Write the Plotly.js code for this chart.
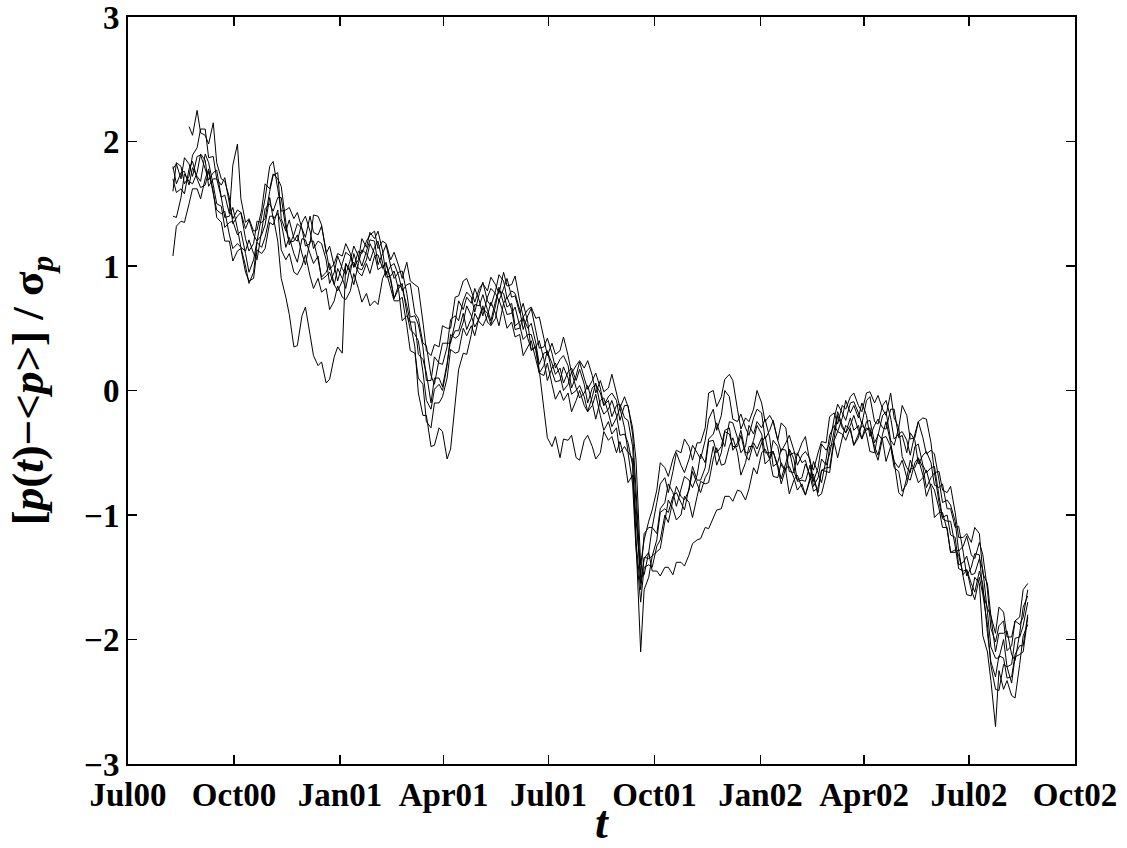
<!DOCTYPE html>
<html>
<head>
<meta charset="utf-8">
<script src="https://cdn.plot.ly/plotly-3.0.1.min.js"></script>
<style>
html,body{margin:0;padding:0;background:#fff;}
#chart{width:1127px;height:848px;}
</style>
</head>
<body>
<div id="chart"></div>
<script>
// Sample dates (twice a week)
const dates = [
"2000-08-09","2000-08-12","2000-08-16","2000-08-19","2000-08-23","2000-08-26","2000-08-30","2000-09-02","2000-09-06","2000-09-09",
"2000-09-13","2000-09-16","2000-09-20","2000-09-23","2000-09-27","2000-09-30","2000-10-04","2000-10-07","2000-10-11","2000-10-14",
"2000-10-18","2000-10-21","2000-10-25","2000-10-28","2000-11-01","2000-11-04","2000-11-08","2000-11-11","2000-11-15","2000-11-18",
"2000-11-22","2000-11-25","2000-11-29","2000-12-02","2000-12-06","2000-12-09","2000-12-13","2000-12-16","2000-12-20","2000-12-23",
"2000-12-27","2000-12-30","2001-01-03","2001-01-06","2001-01-10","2001-01-13","2001-01-17","2001-01-20","2001-01-24","2001-01-27",
"2001-01-31","2001-02-03","2001-02-07","2001-02-10","2001-02-14","2001-02-17","2001-02-21","2001-02-24","2001-02-28","2001-03-03",
"2001-03-07","2001-03-10","2001-03-14","2001-03-17","2001-03-21","2001-03-24","2001-03-28","2001-03-31","2001-04-04","2001-04-07",
"2001-04-11","2001-04-14","2001-04-18","2001-04-21","2001-04-25","2001-04-28","2001-05-02","2001-05-05","2001-05-09","2001-05-12",
"2001-05-16","2001-05-19","2001-05-23","2001-05-26","2001-05-30","2001-06-02","2001-06-06","2001-06-09","2001-06-13","2001-06-16",
"2001-06-20","2001-06-23","2001-06-27","2001-06-30","2001-07-04","2001-07-07","2001-07-11","2001-07-14","2001-07-18","2001-07-21",
"2001-07-25","2001-07-28","2001-08-01","2001-08-04","2001-08-08","2001-08-11","2001-08-15","2001-08-18","2001-08-22","2001-08-25",
"2001-08-29","2001-09-01","2001-09-05","2001-09-08","2001-09-12","2001-09-15","2001-09-19","2001-09-22","2001-09-26","2001-09-29",
"2001-10-03","2001-10-06","2001-10-10","2001-10-13","2001-10-17","2001-10-20","2001-10-24","2001-10-27","2001-10-31","2001-11-03",
"2001-11-07","2001-11-10","2001-11-14","2001-11-17","2001-11-21","2001-11-24","2001-11-28","2001-12-01","2001-12-05","2001-12-08",
"2001-12-12","2001-12-15","2001-12-19","2001-12-22","2001-12-26","2001-12-29","2002-01-02","2002-01-05","2002-01-09","2002-01-12",
"2002-01-16","2002-01-19","2002-01-23","2002-01-26","2002-01-30","2002-02-02","2002-02-06","2002-02-09","2002-02-13","2002-02-16",
"2002-02-20","2002-02-23","2002-02-27","2002-03-02","2002-03-06","2002-03-09","2002-03-13","2002-03-16","2002-03-20","2002-03-23",
"2002-03-27","2002-03-30","2002-04-03","2002-04-06","2002-04-10","2002-04-13","2002-04-17","2002-04-20","2002-04-24","2002-04-27",
"2002-05-01","2002-05-04","2002-05-08","2002-05-11","2002-05-15","2002-05-18","2002-05-22","2002-05-25","2002-05-29","2002-06-01",
"2002-06-05","2002-06-08","2002-06-12","2002-06-15","2002-06-19","2002-06-22","2002-06-26","2002-06-29","2002-07-03","2002-07-06",
"2002-07-10","2002-07-13","2002-07-17","2002-07-20","2002-07-24","2002-07-27","2002-07-31","2002-08-03","2002-08-07","2002-08-10",
"2002-08-14","2002-08-17","2002-08-21"
];

// Normalised price series [p(t)-<p>]/sigma_p
const series1 = [
1.08,1.32,1.36,1.35,1.5,1.62,1.62,1.54,1.7,1.78,1.58,1.45,1.42,1.44,1.25,1.14,1.18,1.15,1.0,0.86,
0.95,1.19,1.15,1.23,1.4,1.4,1.2,0.9,0.75,0.61,0.35,0.36,0.6,0.67,0.45,0.28,0.2,0.23,0.06,0.09,
0.27,0.35,0.3,1.02,0.95,1.1,0.98,0.97,1.05,1.18,1.1,0.97,1.0,1.01,0.9,0.74,0.82,0.86,0.62,0.49,
0.45,0.4,0.15,-0.08,-0.15,0.01,0.05,0.0,0.2,0.45,0.42,0.44,0.55,0.68,0.6,0.51,0.58,0.66,0.62,0.53,
0.68,0.83,0.7,0.61,0.62,0.67,0.52,0.41,0.45,0.45,0.32,0.14,0.2,0.32,0.15,0.07,0.08,0.19,0.1,-0.03,
0.0,0.04,-0.05,-0.17,-0.05,0.06,-0.12,-0.19,-0.15,-0.08,-0.2,-0.36,-0.35,-0.42,-0.6,-1.22,-1.6,-1.34,-1.35,-1.33,
-1.2,-0.98,-0.95,-0.98,-0.85,-0.82,-0.9,-0.96,-0.78,-0.61,-0.72,-0.72,-0.62,-0.41,-0.4,-0.5,-0.45,-0.32,-0.3,-0.48,
-0.42,-0.32,-0.5,-0.5,-0.4,-0.28,-0.35,-0.5,-0.5,-0.49,-0.6,-0.71,-0.58,-0.48,-0.65,-0.72,-0.7,-0.59,-0.68,-0.81,
-0.78,-0.64,-0.62,-0.62,-0.38,-0.2,-0.3,-0.34,-0.28,-0.2,-0.32,-0.39,-0.3,-0.32,-0.45,-0.52,-0.35,-0.25,-0.42,-0.57,
-0.62,-0.56,-0.7,-0.72,-0.58,-0.54,-0.62,-0.78,-0.7,-0.66,-0.9,-1.03,-1.05,-1.05,-1.25,-1.43,-1.45,-1.44,-1.55,-1.62,
-1.45,-1.56,-1.95,-2.18,-2.3,-2.13,-2.15,-2.31,-2.3,-2.12,-2.05,-2.05,-1.8];

const series2 = [
1.4,1.39,1.55,1.74,1.68,1.66,1.75,1.9,1.85,1.64,1.7,1.7,1.55,1.39,1.4,1.47,1.3,1.15,1.12,1.21,
1.1,1.05,1.28,1.46,1.5,1.44,1.55,1.55,1.3,1.19,1.2,1.25,1.1,1.01,1.2,1.2,1.05,0.91,0.95,1.02,
0.85,0.8,0.88,1.02,0.95,0.85,1.02,1.13,1.1,1.04,1.15,1.2,1.02,0.91,0.92,0.96,0.8,0.56,0.6,0.55,
0.35,-0.02,-0.2,-0.2,-0.45,-0.44,-0.3,-0.33,-0.55,-0.47,-0.1,0.17,0.3,0.29,0.45,0.62,0.55,0.52,0.6,0.71,
0.62,0.52,0.7,0.75,0.65,0.49,0.5,0.58,0.42,0.33,0.35,0.4,0.25,0.08,0.18,0.22,0.12,0.0,0.05,0.15,
0.02,-0.06,-0.02,0.04,-0.1,-0.23,-0.08,-0.06,-0.18,-0.29,-0.22,-0.14,-0.3,-0.49,-0.55,-1.22,-2.1,-1.6,-1.5,-1.33,
-1.3,-1.27,-1.05,-0.88,-0.95,-1.04,-1.0,-0.85,-0.9,-1.02,-0.85,-0.73,-0.75,-0.74,-0.55,-0.46,-0.6,-0.59,-0.45,-0.38,
-0.5,-0.68,-0.58,-0.45,-0.45,-0.53,-0.42,-0.37,-0.55,-0.69,-0.7,-0.58,-0.65,-0.83,-0.72,-0.68,-0.78,-0.84,-0.72,-0.67,
-0.85,-0.83,-0.68,-0.45,-0.42,-0.54,-0.38,-0.28,-0.32,-0.44,-0.38,-0.25,-0.35,-0.49,-0.5,-0.35,-0.4,-0.57,-0.45,-0.57,
-0.82,-0.85,-0.7,-0.56,-0.65,-0.74,-0.7,-0.64,-0.78,-1.02,-0.98,-0.98,-1.12,-1.3,-1.3,-1.28,-1.5,-1.64,-1.65,-1.5,
-1.55,-1.97,-2.1,-2.33,-2.7,-2.25,-2.4,-2.33,-2.45,-2.47,-2.2,-1.97,-1.88];

const series3 = [
1.6,1.83,1.8,1.66,1.72,1.89,1.95,2.1,2.1,1.87,1.88,1.7,1.65,1.71,1.5,1.38,1.45,1.43,1.3,1.37,
1.25,1.2,1.4,1.54,1.8,1.84,1.62,1.44,1.45,1.47,1.38,1.43,1.3,1.23,1.4,1.27,1.25,1.32,1.12,0.97,
1.02,1.1,1.08,1.18,1.1,0.99,1.12,1.1,1.2,1.25,1.28,1.14,1.2,1.18,1.05,1.11,1.0,0.9,1.03,0.88,
0.85,0.83,0.55,0.32,0.28,0.37,0.35,0.52,0.5,0.5,0.75,0.76,0.88,0.9,0.8,0.71,0.82,0.86,0.8,0.91,
0.85,0.78,0.95,0.84,0.85,0.92,0.72,0.59,0.65,0.67,0.58,0.59,0.42,0.28,0.38,0.29,0.32,0.43,0.28,0.14,
0.2,0.24,0.18,0.24,0.12,-0.02,0.08,-0.01,0.02,0.13,-0.02,-0.14,-0.05,-0.13,-0.3,-0.56,-1.4,-1.2,-1.05,-0.96,
-0.8,-0.58,-0.62,-0.69,-0.55,-0.48,-0.5,-0.39,-0.45,-0.56,-0.42,-0.42,-0.3,-0.02,0.0,-0.13,-0.05,0.09,0.13,0.08,
-0.15,-0.31,-0.22,-0.25,-0.15,0.0,-0.1,-0.25,-0.2,-0.25,-0.4,-0.26,-0.3,-0.52,-0.5,-0.52,-0.42,-0.37,-0.58,-0.64,
-0.5,-0.41,-0.42,-0.21,-0.18,-0.27,-0.12,-0.15,-0.05,-0.02,-0.12,-0.17,-0.02,-0.01,-0.1,-0.04,-0.15,-0.2,-0.02,-0.22,
-0.3,-0.12,-0.2,-0.39,-0.38,-0.25,-0.22,-0.23,-0.42,-0.66,-0.65,-0.8,-0.82,-0.77,-0.98,-1.18,-1.18,-1.15,-1.22,-1.1,
-1.15,-1.47,-1.55,-1.81,-1.95,-1.74,-1.78,-1.98,-1.98,-1.85,-1.82,-1.6,-1.55];

const series4 = [
1.7,1.59,1.62,1.58,1.78,1.84,1.7,1.63,1.65,1.76,1.6,1.39,1.35,1.2,1.2,1.04,1.12,1.14,0.95,0.88,
0.9,1.13,1.1,1.14,1.35,1.33,1.45,1.13,1.05,1.1,0.95,0.93,1.0,1.09,0.92,0.82,0.9,0.79,0.82,0.65,
0.72,0.84,0.75,0.73,0.8,0.94,0.82,0.71,0.78,0.68,0.72,0.69,0.9,0.96,0.82,0.72,0.72,0.75,0.52,0.32,
0.3,0.1,0.05,-0.25,-0.3,-0.1,-0.1,-0.05,0.1,0.33,0.3,0.31,0.5,0.44,0.52,0.44,0.6,0.68,0.55,0.52,
0.58,0.73,0.62,0.5,0.55,0.43,0.45,0.28,0.35,0.4,0.25,0.14,0.12,0.22,0.05,-0.07,0.0,-0.08,-0.02,-0.17,
-0.08,0.0,-0.12,-0.17,-0.12,-0.03,-0.2,-0.32,-0.25,-0.35,-0.3,-0.5,-0.45,-0.5,-0.75,-1.28,-1.7,-1.42,-1.4,-1.42,
-1.25,-1.2,-1.0,-1.06,-0.88,-0.77,-0.85,-0.88,-0.8,-0.65,-0.75,-0.82,-0.7,-0.65,-0.45,-0.6,-0.5,-0.33,-0.35,-0.45,
-0.45,-0.36,-0.52,-0.56,-0.42,-0.47,-0.38,-0.59,-0.55,-0.4,-0.45,-0.6,-0.65,-0.47,-0.55,-0.73,-0.72,-0.73,-0.6,-0.77,
-0.7,-0.55,-0.6,-0.51,-0.32,-0.17,-0.28,-0.34,-0.22,-0.32,-0.28,-0.39,-0.25,-0.24,-0.42,-0.36,-0.2,-0.17,-0.4,-0.44,
-0.3,-0.53,-0.62,-0.66,-0.45,-0.43,-0.6,-0.66,-0.62,-0.61,-0.85,-1.02,-1.0,-1.16,-1.18,-1.4,-1.38,-1.33,-1.48,-1.47,
-1.35,-1.44,-1.78,-2.06,-2.15,-2.15,-2.0,-2.22,-2.2,-1.99,-1.98,-1.89,-1.7];

const series5 = [
1.78,1.82,1.7,1.87,1.82,1.72,1.88,1.89,1.78,1.69,1.75,1.77,1.55,1.57,1.42,1.81,1.98,1.54,1.35,1.38,
1.28,1.29,1.45,1.66,1.62,1.74,1.7,1.64,1.35,1.17,1.25,1.34,1.3,1.16,1.18,1.41,1.4,1.33,1.1,1.16,
1.0,0.88,1.02,1.11,1.08,0.99,1.05,1.22,1.15,1.27,1.22,1.28,1.12,0.93,1.0,1.02,0.92,0.8,0.85,0.86,
0.62,0.58,0.38,0.36,0.12,0.05,0.25,0.38,0.38,0.38,0.55,0.72,0.65,0.75,0.7,0.82,0.72,0.6,0.75,0.82,
0.78,0.72,0.82,0.9,0.75,0.76,0.62,0.7,0.55,0.32,0.35,0.16,-0.15,-0.38,-0.45,-0.37,-0.54,-0.39,-0.4,-0.36,
-0.54,-0.56,-0.4,-0.36,-0.45,-0.55,-0.5,-0.33,-0.4,-0.37,-0.5,-0.41,-0.55,-0.74,-0.68,-1.03,-1.5,-1.48,-1.3,-1.1,
-1.15,-0.95,-0.9,-0.75,-0.82,-0.93,-0.78,-0.69,-0.72,-0.78,-0.68,-0.51,-0.58,-0.39,-0.35,-0.26,-0.38,-0.45,-0.25,-0.26,
-0.38,-0.5,-0.45,-0.28,-0.35,-0.25,-0.3,-0.23,-0.38,-0.61,-0.58,-0.47,-0.48,-0.65,-0.66,-0.5,-0.58,-0.56,-0.7,-0.57,
-0.66,-0.74,-0.55,-0.36,-0.28,-0.33,-0.22,-0.08,-0.18,-0.12,-0.22,-0.1,-0.2,-0.37,-0.28,-0.23,-0.3,-0.31,-0.15,-0.15,
-0.38,-0.36,-0.5,-0.34,-0.4,-0.59,-0.52,-0.49,-0.58,-0.76,-0.78,-0.75,-0.95,-0.95,-1.1,-1.09,-1.3,-1.49,-1.42,-1.31,
-1.32,-1.62,-1.75,-1.81,-2.1,-1.95,-1.95,-1.93,-2.12,-2.17,-1.95,-1.74,-1.65];

const series6 = [
1.8,1.66,1.75,1.76,1.65,1.79,1.72,1.68,1.9,1.83,1.65,1.5,1.48,1.31,1.35,1.36,1.25,1.28,1.1,0.95,
1.05,1.2,1.25,1.33,1.55,1.38,1.42,1.35,1.15,1.23,1.1,1.03,1.22,1.21,1.1,1.02,1.08,0.89,0.92,0.95,
0.85,0.98,0.9,0.82,1.0,1.03,0.95,0.92,1.02,0.94,1.08,1.09,0.98,1.03,0.88,0.74,0.85,0.82,0.68,0.55,
0.55,0.29,0.25,0.14,-0.1,0.1,0.1,0.03,0.22,0.4,0.48,0.48,0.62,0.49,0.58,0.69,0.68,0.77,0.65,0.56,
0.72,0.8,0.78,0.67,0.7,0.52,0.55,0.59,0.5,0.54,0.38,0.21,0.3,0.31,0.22,0.13,0.18,0.06,0.15,0.18,
0.08,0.17,0.05,-0.1,0.02,0.05,-0.02,-0.12,-0.08,-0.21,-0.12,-0.11,-0.22,-0.24,-0.45,-0.96,-1.55,-1.35,-1.3,-1.45,
-1.45,-1.49,-1.42,-1.42,-1.48,-1.38,-1.38,-1.41,-1.32,-1.23,-1.2,-1.19,-1.1,-1.11,-1.02,-0.96,-0.95,-0.85,-0.85,-0.89,
-0.8,-0.81,-0.88,-0.79,-0.62,-0.67,-0.5,-0.47,-0.55,-0.49,-0.62,-0.75,-0.62,-0.61,-0.7,-0.8,-0.75,-0.84,-0.7,-0.7,
-0.82,-0.64,-0.65,-0.66,-0.4,-0.33,-0.35,-0.4,-0.3,-0.44,-0.35,-0.28,-0.32,-0.3,-0.48,-0.56,-0.38,-0.37,-0.45,-0.62,
-0.65,-0.81,-0.75,-0.63,-0.62,-0.55,-0.68,-0.85,-0.75,-0.8,-0.95,-1.1,-1.1,-1.3,-1.28,-1.32,-1.48,-1.44,-1.6,-1.68,
-1.5,-1.64,-1.88,-2.21,-2.4,-2.41,-2.2,-2.22,-2.35,-2.14,-2.12,-2.1,-1.82];

const series7 = [
null,null,null,null,2.12,2.05,2.25,2.07,2.05,1.98,2.15,1.83,1.7,1.68,1.55,1.34,1.4,1.43,1.22,1.12,
1.18,1.36,1.35,1.38,1.6,1.73,1.75,1.38,1.28,1.37,1.22,1.2,1.35,1.4,1.28,1.14,1.2,1.18,1.05,0.86,
0.95,1.08,0.98,0.93,1.05,1.16,1.08,1.0,1.12,1.21,1.2,1.01,1.1,1.17,1.0,0.9,0.95,0.96,0.78,0.59,
0.6,0.53,0.35,0.08,0.08,0.27,0.22,0.21,0.35,0.57,0.6,0.56,0.72,0.79,0.75,0.63,0.78,0.87,0.72,0.68,
0.8,0.93,0.88,0.74,0.8,0.78,0.65,0.49,0.6,0.66,0.48,0.34,0.35,0.42,0.3,0.18,0.25,0.28,0.2,0.02,
0.12,0.23,0.1,0.01,0.08,0.14,0.02,-0.12,-0.05,-0.02,-0.08,-0.24,-0.12,-0.12,-0.35,-0.8,-1.5,-1.15,-1.1,-1.1,
-0.9,-0.75,-0.7,-0.82,-0.65,-0.5,-0.6,-0.66,-0.55,-0.44,-0.5,-0.55,-0.4,-0.23,-0.15,-0.32,-0.2,0.0,-0.05,-0.23,
-0.25,-0.19,-0.3,-0.36,-0.22,-0.15,-0.18,-0.39,-0.32,-0.24,-0.4,-0.49,-0.42,-0.36,-0.48,-0.6,-0.52,-0.49,-0.55,-0.73,
-0.62,-0.43,-0.48,-0.43,-0.22,-0.11,-0.18,-0.24,-0.1,-0.09,-0.18,-0.27,-0.08,-0.05,-0.25,-0.27,-0.12,-0.08,-0.22,-0.39,
-0.35,-0.33,-0.4,-0.52,-0.35,-0.25,-0.38,-0.51,-0.48,-0.51,-0.72,-0.9,-0.88,-0.92,-1.05,-1.29,-1.25,-1.17,-1.32,-1.35,
-1.22,-1.32,-1.6,-1.91,-2.02,-1.89,-1.85,-2.09,-2.05,-1.85,-1.88,-1.82,-1.6];

// Axis ticks
const xTickVals = ["2000-07-01","2000-10-01","2001-01-01","2001-04-01","2001-07-01","2001-10-01","2002-01-01","2002-04-01","2002-07-01","2002-10-01"];
const xTickText = ["Jul00","Oct00","Jan01","Apr01","Jul01","Oct01","Jan02","Apr02","Jul02","Oct02"];
const yTickVals = [-3,-2,-1,0,1,2,3];
const yTickText = ["\u22123","\u22122","\u22121","0","1","2","3"];

const allSeries = [series1,series2,series3,series4,series5,series6,series7];

const traces = allSeries.map(function(vals){
  return {
    x: dates, y: vals, type: 'scatter', mode: 'lines',
    line: {color: '#000000', width: 1},
    connectgaps: false, hoverinfo: 'skip', showlegend: false
  };
});

const serif = '"Liberation Serif", "Times New Roman", Times, serif';
const tickFont = {family: serif, size: 33, color: '#000', weight: 'bold'};

const layout = {
  width: 1127, height: 848,
  margin: {l: 128, r: 52, t: 17, b: 84, pad: 0},
  paper_bgcolor: '#ffffff', plot_bgcolor: '#ffffff',
  showlegend: false,
  xaxis: {
    type: 'date',
    range: ['2000-07-01', '2002-10-01'],
    tickmode: 'array', tickvals: xTickVals, ticktext: xTickText,
    ticks: 'inside', ticklen: 9, tickwidth: 1.5, tickcolor: '#000',
    showline: true, linewidth: 2, linecolor: '#000', mirror: 'ticks',
    showgrid: false, zeroline: false,
    tickfont: tickFont, ticklabeloverflow: 'allow',
    title: {text: '<i>t</i>', font: {family: serif, size: 46, color: '#000', weight: 'bold'}, standoff: 0}
  },
  yaxis: {
    range: [-3, 3],
    tickmode: 'array', tickvals: yTickVals, ticktext: yTickText,
    ticks: 'inside', ticklen: 9, tickwidth: 1.5, tickcolor: '#000',
    showline: true, linewidth: 2, linecolor: '#000', mirror: 'ticks',
    showgrid: false, zeroline: false,
    tickfont: tickFont, ticklabeloverflow: 'allow',
    title: {text: '[<i>p</i>(<i>t</i>)\u2212&lt;<i>p</i>&gt;] / \u03c3<sub><i>p</i></sub>', font: {family: serif, size: 45, color: '#000', weight: 'bold'}, standoff: 26}
  }
};

Plotly.newPlot('chart', traces, layout, {staticPlot: true, displayModeBar: false});
</script>
</body>
</html>
